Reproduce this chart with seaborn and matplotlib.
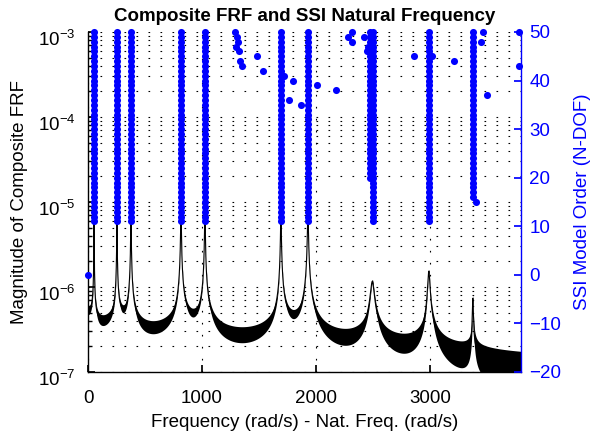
import numpy as np
import pandas as pd
import matplotlib
matplotlib.use("Agg")
import matplotlib.pyplot as plt
import matplotlib.transforms as mtransforms
import seaborn as sns
from matplotlib.ticker import LogLocator, NullFormatter, FuncFormatter

# ---------------- data ----------------
# modal parameters read from the composite FRF (natural freq rad/s, peak magnitude, damping ratio)
mode_freqs = [53, 254, 377, 816, 1026, 1693, 1930, 2495, 2991, 3377]
mode_peaks = [8.0e-6, 8.0e-6, 8.0e-6, 8.0e-6, 8.0e-6, 8.0e-6, 8.0e-6, 1.0e-6, 1.4e-6, 6.0e-7]
mode_zetas = [0.012, 0.004, 0.004, 0.0027, 0.0021, 0.0013, 0.0015, 0.006, 0.0028, 0.0009]
noise_floor = 7.0e-8
noise_amp = 6.0e-8
freq_max = 3800

# stable SSI poles: column frequency and lowest model order where it appears (up to order 50)
stack_freqs = [53, 254, 377, 816, 1026, 1693, 1930, 2502, 2478, 2991, 3377]
stack_min_order = [11, 11, 11, 11, 11, 11, 11, 11, 20, 11, 16]
max_order = 50

# isolated SSI poles (frequency, model order)
extra_freqs = [0, 1289, 1307, 1316, 1298, 1325, 1333, 1351, 1482, 1535, 1719, 1798,
               1763, 1868, 2009, 2175, 2281, 2316, 2316, 2421, 2445, 2456,
               2860, 3018, 3211, 3447, 3465, 3500, 3781, 3781, 3404]
extra_orders = [0, 50, 49, 48, 47, 46, 44, 43, 45, 42, 41, 40,
                36, 35, 39, 38, 49, 50, 48, 49, 46, 47,
                45, 45, 44, 48, 50, 37, 50, 43, 15]

# ---------------- build tables ----------------
w = np.linspace(0, freq_max, 7601)
H = np.full_like(w, noise_floor)
for fk, pk, zk in zip(mode_freqs, mode_peaks, mode_zetas):
    r = w / fk
    H += pk * 2 * zk / np.sqrt((1 - r ** 2) ** 2 + (2 * zk * r) ** 2)
frf = pd.DataFrame({"freq": w, "mag": H})

pole_f, pole_o = [], []
for f, omin in zip(stack_freqs, stack_min_order):
    for o in range(omin, max_order + 1):
        pole_f.append(f)
        pole_o.append(o)
pole_f += extra_freqs
pole_o += extra_orders
poles = pd.DataFrame({"freq": pole_f, "order": pole_o})

# ---------------- plot ----------------
sns.set_theme(style="white")
plt.rcParams["font.family"] = ["Liberation Sans", "DejaVu Sans"]
plt.rcParams["mathtext.fontset"] = "custom"
plt.rcParams["mathtext.rm"] = "Liberation Sans"
plt.rcParams["mathtext.default"] = "regular"
plt.rcParams["text.color"] = "black"
plt.rcParams["axes.labelcolor"] = "black"
plt.rcParams["xtick.color"] = "black"
plt.rcParams["ytick.color"] = "black"

FS = 13.5
dots = (0, (1.5, 9.3))

fig = plt.figure(figsize=(5.92, 4.41), dpi=100)
ax = fig.add_axes([88 / 592, (441 - 372) / 441, (521 - 88) / 592, (372 - 32) / 441])
ax.set_yscale("log")
ax.fill_between(w, np.clip(H - noise_amp, 8e-8, None), H + noise_amp, color="black", lw=0)
sns.lineplot(data=frf, x="freq", y="mag", ax=ax, color="black", lw=0.8, estimator=None)
ax.set_xlim(0, freq_max)
ax.set_ylim(1e-7, 1e-3)
ax.yaxis.set_major_locator(LogLocator(base=10, numticks=10))
ax.yaxis.set_minor_locator(LogLocator(base=10, subs=np.arange(2, 10), numticks=10))
ax.yaxis.set_minor_formatter(NullFormatter())
ax.yaxis.set_major_formatter(FuncFormatter(lambda v, p: r"$10^{%d}$" % round(np.log10(v))))
ax.set_xticks([0, 1000, 2000, 3000])
ax.grid(True, which="major", axis="both", color="black", ls=dots, lw=0.8)
ax.grid(True, which="minor", axis="y", color="black", ls=dots, lw=0.8)
ax.tick_params(axis="both", which="both", direction="in", labelsize=FS,
               color="black", labelcolor="black")
ax.tick_params(axis="y", which="major", length=5, pad=9)
ax.tick_params(axis="y", which="minor", length=3, left=True)
ax.tick_params(axis="x", which="major", length=5, bottom=True, pad=13)
ax.set_xlabel("Frequency (rad/s) - Nat. Freq. (rad/s)", fontsize=FS, labelpad=5, color="black")
ax.set_ylabel("Magnitude of Composite FRF", fontsize=FS, labelpad=7, color="black")
ax.set_title("Composite FRF and SSI Natural Frequency", fontsize=FS, fontweight="bold",
             pad=8, color="black")
for s in ["left", "bottom"]:
    ax.spines[s].set_color("black")
    ax.spines[s].set_linewidth(1.0)
ax.spines["top"].set_visible(False)
ax.spines["right"].set_visible(False)

# shift the 10^n labels slightly down, as in the reference
shift = mtransforms.ScaledTranslation(0, -4 / 72, fig.dpi_scale_trans)
for lab in ax.get_yticklabels():
    lab.set_transform(lab.get_transform() + shift)

ax2 = ax.twinx()
sns.scatterplot(data=poles, x="freq", y="order", ax=ax2, color="#0000ff", s=26,
                edgecolor="#0000ff", linewidth=0, zorder=5, clip_on=False)
ax2.set_xlim(0, freq_max)
ax2.set_ylim(-20, 50)
ax2.set_yticks([-20, -10, 0, 10, 20, 30, 40, 50])
ax2.tick_params(axis="y", direction="in", colors="#0000ff", labelsize=FS, length=5,
                right=True, pad=6)
ax2.set_ylabel("SSI Model Order (N-DOF)", color="#0000ff", fontsize=FS, labelpad=9)
ax2.set_xlabel("")
for s in ["left", "top", "bottom"]:
    ax2.spines[s].set_visible(False)
ax2.spines["right"].set_color("#0000ff")
ax2.spines["right"].set_linewidth(1.0)
ax2.grid(False)

fig.savefig("out.png", dpi=100)
